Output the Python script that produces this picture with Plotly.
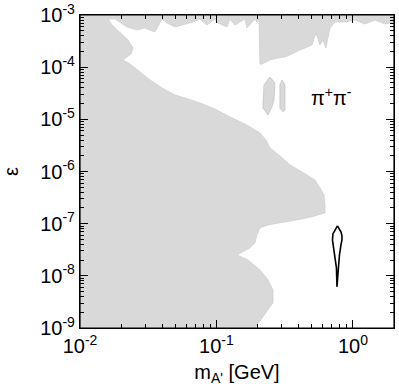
import plotly.graph_objects as go

# ---- data (mass in GeV, epsilon) ----
excl_mass = [0.01, 0.01, 2.0, 2.0,
             1.716, 1.450, 1.224, 1.034, 0.874, 0.738, 0.6785, 0.6342, 0.6029, 0.5731,
             0.5357, 0.5006, 0.4451, 0.4089, 0.3574, 0.3176, 0.2822, 0.2466, 0.2154,
             0.2083, 0.2048,
             0.1980, 0.1914, 0.1673, 0.1618, 0.1366, 0.1256, 0.1194, 0.1026, 0.0975,
             0.0852, 0.0757, 0.0673, 0.0568, 0.0497, 0.0434, 0.0399, 0.0354, 0.0299,
             0.0262, 0.0221, 0.0181,
             0.01603, 0.01716, 0.01963, 0.02247, 0.02445, 0.02364, 0.02065, 0.02324,
             0.02751, 0.03257, 0.03988, 0.04966, 0.06183, 0.0757, 0.0975, 0.1256,
             0.1618, 0.2083, 0.2305, 0.2466, 0.2919, 0.3455, 0.4230, 0.5267, 0.5731,
             0.6131, 0.6236, 0.6236, 0.5267, 0.4302, 0.3176, 0.2384, 0.2083, 0.1980,
             0.1914, 0.1760, 0.1413, 0.1702, 0.2083, 0.2384, 0.2594, 0.2594, 0.2191,
             0.1914]
excl_eps = [1e-9, 1e-3, 1e-3, 7.34e-4,
            6.72e-4, 8.02e-4, 6.72e-4, 8.02e-4, 7.34e-4, 7.34e-4, 5.64e-4, 2.33e-4, 3.32e-4, 2.66e-4,
            4.52e-4, 2.66e-4, 2.33e-4, 2.14e-4, 1.79e-4, 1.57e-4, 1.50e-4, 1.37e-4, 1.15e-4,
            1.15e-4, 8.38e-4,
            7.34e-4, 8.38e-4, 5.64e-4, 8.38e-4, 6.43e-4, 8.38e-4, 5.89e-4, 7.03e-4, 8.38e-4,
            6.43e-4, 8.38e-4, 7.34e-4, 6.43e-4, 5.89e-4, 7.03e-4, 8.38e-4, 4.72e-4, 5.64e-4,
            5.16e-4, 5.89e-4, 8.38e-4,
            8.38e-4, 6.43e-4, 4.52e-4, 3.32e-4, 2.33e-4, 1.79e-4, 1.37e-4, 1.15e-4,
            8.09e-5, 5.69e-5, 3.99e-5, 2.93e-5, 2.46e-5, 2.06e-5, 1.58e-5, 1.11e-5,
            8.17e-6, 5.49e-6, 4.03e-6, 2.83e-6, 1.99e-6, 1.34e-6, 9.82e-7, 6.90e-7, 4.85e-7,
            3.56e-7, 2.29e-7, 1.61e-7, 1.41e-7, 1.24e-7, 1.08e-7, 9.48e-8, 8.31e-8, 6.10e-8,
            4.29e-8, 3.44e-8, 2.52e-8, 2.02e-8, 1.30e-8, 8.38e-9, 5.39e-9, 3.04e-9, 1.64e-9,
            1e-9]

island1_mass = [0.2466, 0.2683, 0.2638, 0.2550, 0.2384, 0.2191, 0.2228, 0.2466]
island1_eps = [6.49e-5, 4.98e-5, 2.35e-5, 1.73e-5, 1.21e-5, 1.65e-5, 4.56e-5, 6.49e-5]
island2_mass = [0.3019, 0.3176, 0.3176, 0.3070, 0.2919, 0.2919, 0.3019]
island2_eps = [5.69e-5, 4.56e-5, 1.51e-5, 1.39e-5, 1.65e-5, 4.56e-5, 5.69e-5]

contour_mass = [0.770, 0.790, 0.817, 0.831, 0.831, 0.817, 0.797, 0.783, 0.770, 0.764,
                0.757, 0.7446, 0.7258, 0.708, 0.7135, 0.738, 0.751, 0.770]
contour_eps = [9.08e-8, 7.95e-8, 6.97e-8, 5.84e-8, 4.89e-8, 3.93e-8, 2.52e-8, 1.42e-8, 8.38e-9, 6.15e-9,
               1.42e-8, 2.02e-8, 3.15e-8, 4.89e-8, 6.37e-8, 7.61e-8, 8.31e-8, 9.08e-8]

x_major = [0.01, 0.1, 1.0]
x_major_text = ["10<sup>-2</sup>", "10<sup>-1</sup>", "10<sup>0</sup>"]
x_minor = [k * 10.0 ** e for e in (-2, -1) for k in range(2, 10)] + [2.0]
y_major = [1e-9, 1e-8, 1e-7, 1e-6, 1e-5, 1e-4, 1e-3]
y_major_text = ["10<sup>-9</sup>", "10<sup>-8</sup>", "10<sup>-7</sup>", "10<sup>-6</sup>",
                "10<sup>-5</sup>", "10<sup>-4</sup>", "10<sup>-3</sup>"]
y_minor = [k * 10.0 ** e for e in range(-9, -3) for k in range(2, 10)]

GRAY = "#d9d9d9"
EDGE = "#cfcfcf"
FONT = "Liberation Sans"

fig = go.Figure()
fig.add_trace(go.Scatter(x=excl_mass, y=excl_eps, mode="lines", fill="toself",
                         fillcolor=GRAY, line=dict(color=EDGE, width=0.8),
                         hoverinfo="skip"))
for xm, ye in ((island1_mass, island1_eps), (island2_mass, island2_eps)):
    fig.add_trace(go.Scatter(x=xm, y=ye, mode="lines", fill="toself",
                             fillcolor=GRAY, line=dict(color="#c4c4c4", width=0.8),
                             hoverinfo="skip"))
fig.add_trace(go.Scatter(x=contour_mass, y=contour_eps, mode="lines",
                         line=dict(color="black", width=1.6), hoverinfo="skip"))

axis_common = dict(showline=True, linecolor="black", linewidth=1.2, mirror="allticks",
                   ticks="inside", ticklen=8, tickwidth=1, tickcolor="black",
                   showgrid=False, zeroline=False, automargin=False,
                   ticklabeloverflow="allow",
                   tickfont=dict(family=FONT, size=20, color="black"))

fig.update_xaxes(type="log", range=[-2, 0.301], tickmode="array",
                 tickvals=x_major, ticktext=x_major_text,
                 minor=dict(tickmode="array", tickvals=x_minor, ticks="inside",
                            ticklen=4, tickcolor="black"),
                 title=dict(text="m<sub>A'</sub> [GeV]", standoff=8,
                            font=dict(family=FONT, size=20, color="black")),
                 **axis_common)
fig.update_yaxes(type="log", range=[-9, -3], tickmode="array",
                 tickvals=y_major, ticktext=y_major_text,
                 minor=dict(tickmode="array", tickvals=y_minor, ticks="inside",
                            ticklen=4, tickcolor="black"),
                 title=dict(text="ε", standoff=18,
                            font=dict(family=FONT, size=20, color="black")),
                 **axis_common)

# plot frame
fig.add_shape(type="rect", xref="paper", yref="paper", x0=0, x1=1, y0=0, y1=1,
              line=dict(color="black", width=1.2), layer="above")

fig.add_annotation(x=0.873, y=0.786, xref="paper", yref="paper",
                   text="π<sup>+</sup>π<sup>-</sup>", showarrow=False,
                   font=dict(family=FONT, size=20, color="black"))

fig.update_layout(width=399, height=392, showlegend=False,
                  margin=dict(l=80, r=5, t=15, b=64),
                  plot_bgcolor="white", paper_bgcolor="white",
                  font=dict(family=FONT, size=20, color="black"))

fig.write_html("out.html", config={"displayModeBar": False},
               post_script="document.body.style.margin='0';document.body.style.overflow='hidden';")
